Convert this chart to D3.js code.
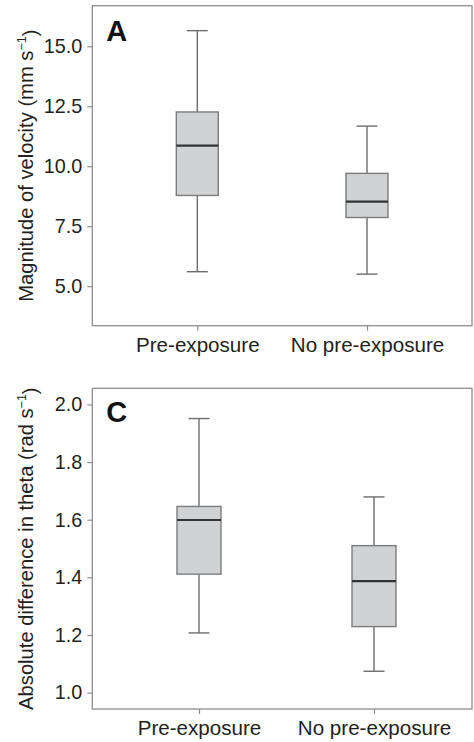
<!DOCTYPE html>
<html>
<head>
<meta charset="utf-8">
<script src="https://cdn.jsdelivr.net/npm/d3@7"></script>
<style>
    body { margin: 0; background: #fff; }
    svg { display: block; font-family: "Liberation Sans", Arial, sans-serif; }
</style>
</head>
<body>
<div id="chart"></div>
<script>
// groups shared by both panels
const groups = ["Pre-exposure", "No pre-exposure"];

// panel A : magnitude of velocity (mm s-1)
const velocityStats = [
    { group: "Pre-exposure",    lo: 5.6, q1: 8.78, med: 10.86, q3: 12.26, hi: 15.65 },
    { group: "No pre-exposure", lo: 5.5, q1: 7.86, med: 8.52,  q3: 9.70,  hi: 11.67 }
];
const velocityTicks = [5.0, 7.5, 10.0, 12.5, 15.0];

// panel C : absolute difference in theta (rad s-1)
const thetaStats = [
    { group: "Pre-exposure",    lo: 1.207, q1: 1.411, med: 1.599, q3: 1.646, hi: 1.951 },
    { group: "No pre-exposure", lo: 1.074, q1: 1.229, med: 1.387, q3: 1.510, hi: 1.679 }
];
const thetaTicks = [1.0, 1.2, 1.4, 1.6, 1.8, 2.0];

const W = 474, H = 742;
const svg = d3.select("#chart").append("svg").attr("width", W).attr("height", H);

/**
 * un panneau boxplot
 */
function draw_panel(cfg) {
    const g = svg.append("g");
    const { left, right, top, bottom } = cfg;

    const x = d3.scalePoint().domain(groups).range(cfg.xRange);
    const y = d3.scaleLinear().domain(cfg.yDomain).range([bottom, top]);

    // cadre
    g.append("rect")
        .attr("x", left).attr("y", top)
        .attr("width", right - left).attr("height", bottom - top)
        .attr("fill", "none").attr("stroke", "#8e8e8e").attr("stroke-width", 1.3);

    // axe Y
    const yAxis = g.append("g").attr("transform", `translate(${left},0)`)
        .call(d3.axisLeft(y).tickValues(cfg.ticks).tickFormat(cfg.fmt).tickSize(5).tickPadding(5));
    yAxis.select(".domain").remove();
    yAxis.selectAll("line").attr("stroke", "#8e8e8e").attr("stroke-width", 1.2);
    yAxis.selectAll("text").attr("fill", "#231f20").style("font-size", "19.8px");

    // axe X
    const xAxis = g.append("g").attr("transform", `translate(0,${bottom})`)
        .call(d3.axisBottom(x).tickSize(5).tickPadding(cfg.xPad));
    xAxis.select(".domain").remove();
    xAxis.selectAll("line").attr("stroke", "#8e8e8e").attr("stroke-width", 1.2);
    xAxis.selectAll("text").attr("fill", "#231f20").style("font-size", "20.6px");

    // boîtes
    const boxes = g.selectAll("g.box").data(cfg.stats).enter().append("g").attr("class", "box");
    const bw = cfg.boxWidth, cap = 21;

    boxes.append("line")
        .attr("x1", d => x(d.group)).attr("x2", d => x(d.group))
        .attr("y1", d => y(d.hi)).attr("y2", d => y(d.q3))
        .attr("stroke", "#6e6e6e").attr("stroke-width", 1.4);
    boxes.append("line")
        .attr("x1", d => x(d.group)).attr("x2", d => x(d.group))
        .attr("y1", d => y(d.q1)).attr("y2", d => y(d.lo))
        .attr("stroke", "#6e6e6e").attr("stroke-width", 1.4);
    ["hi", "lo"].forEach(k => {
        boxes.append("line")
            .attr("x1", d => x(d.group) - cap / 2).attr("x2", d => x(d.group) + cap / 2)
            .attr("y1", d => y(d[k])).attr("y2", d => y(d[k]))
            .attr("stroke", "#6e6e6e").attr("stroke-width", 1.4);
    });
    boxes.append("rect")
        .attr("x", d => x(d.group) - bw / 2).attr("width", bw)
        .attr("y", d => y(d.q3)).attr("height", d => y(d.q1) - y(d.q3))
        .attr("fill", "#d1d2d4").attr("stroke", "#7c7c7c").attr("stroke-width", 1.4);
    boxes.append("line")
        .attr("x1", d => x(d.group) - bw / 2).attr("x2", d => x(d.group) + bw / 2)
        .attr("y1", d => y(d.med)).attr("y2", d => y(d.med))
        .attr("stroke", "#333333").attr("stroke-width", 2.2);

    // lettre du panneau
    g.append("text")
        .attr("x", left + 14).attr("y", cfg.letterY)
        .attr("font-size", "29px").attr("font-weight", "bold").attr("fill", "#111")
        .text(cfg.letter);

    // titre axe Y
    const ty = g.append("text")
        .attr("transform", `translate(33,${(top + bottom) / 2}) rotate(-90)`)
        .attr("text-anchor", "middle").attr("fill", "#231f20").style("font-size", "20.2px");
    ty.append("tspan").text(cfg.yLabel + " (" + cfg.unit + " s");
    ty.append("tspan").attr("dy", "-0.55em").style("font-size", "12.5px").text("\u22121");
    ty.append("tspan").attr("dy", "0.55em").text(")");
}

draw_panel({
    left: 92.3, right: 472, top: 5.7, bottom: 325.7,
    xRange: [197.3, 367],
    yDomain: [3.35, 16.69],
    ticks: velocityTicks, fmt: d3.format(".1f"),
    stats: velocityStats, boxWidth: 42, xPad: 7,
    letter: "A", letterY: 40.7,
    yLabel: "Magnitude of velocity", unit: "mm"
});

draw_panel({
    left: 92.3, right: 472, top: 388.3, bottom: 709,
    xRange: [199, 374],
    yDomain: [0.943, 2.056],
    ticks: thetaTicks, fmt: d3.format(".1f"),
    stats: thetaStats, boxWidth: 44, xPad: 6,
    letter: "C", letterY: 421.5,
    yLabel: "Absolute difference in theta", unit: "rad"
});
</script>
</body>
</html>
